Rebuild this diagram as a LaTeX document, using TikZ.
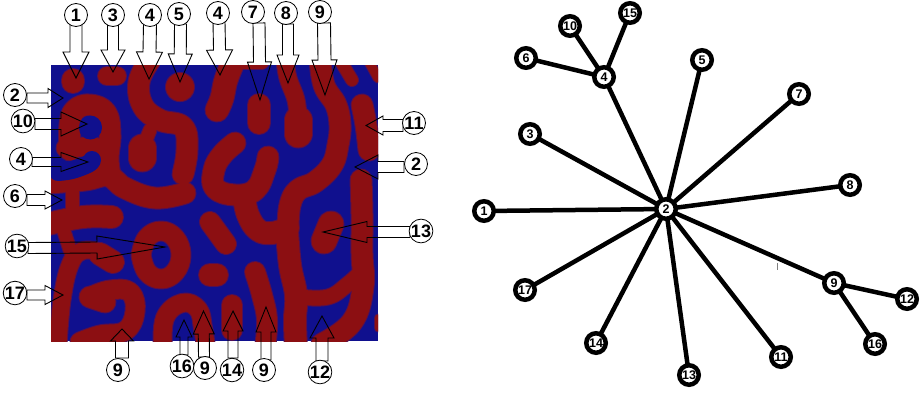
\documentclass[tikz,border=0pt]{standalone}
\usepackage{fontspec}
\setmainfont{Liberation Sans}
\usetikzlibrary{calc}
\definecolor{patblue}{HTML}{10108E}
\definecolor{patred}{HTML}{8C0F12}
\definecolor{pathalo}{HTML}{550F50}
\tikzset{
  x=1pt,y=-1pt,
  patstroke/.style={line cap=round,line join=round},
  barrow/.style={draw=black,line width=0.9pt,line join=miter},
  lab/.style={circle,draw=black,line width=0.8pt,fill=white,minimum size=23pt,inner sep=0pt,font=\fontsize{18}{18}\selectfont\bfseries},
  gnode/.style={circle,draw=black,line width=4.5pt,fill=white,minimum size=19.5pt,inner sep=0pt,outer sep=0pt,font=\fontsize{12.5}{12.5}\selectfont\bfseries},
  gedge/.style={draw=black,line width=4.5pt},
}
\newcommand\redstroke[2]{\draw[patstroke,color=\pcol,line width=#1pt+\dw pt] plot[smooth,tension=.7] coordinates {#2};}
\newcommand\bluestroke[2]{\draw[patstroke,color=patblue,line width=#1pt] plot[smooth,tension=.7] coordinates {#2};}
\newcommand\blockarrow[6]{%
  \coordinate (#1t) at (#2);
  \coordinate (#1p) at (#3);
  \coordinate (#1b) at ($(#1p)!#6pt!(#1t)$);
  \draw[barrow] ($(#1t)!#4pt!90:(#1p)$) -- ($(#1b)!#4pt!90:(#1p)$) -- ($(#1b)!#5pt!90:(#1p)$) -- (#1p)
    -- ($(#1b)!-#5pt!90:(#1p)$) -- ($(#1b)!-#4pt!90:(#1p)$) -- ($(#1t)!-#4pt!90:(#1p)$) -- cycle;
}
\newcommand\patstrokes{%
  \redstroke{19}{(73,80)(73,82)}
  \redstroke{15}{(107,76)(117,76)}
  \redstroke{25}{(180,87)(180,87.1)}
  \redstroke{18}{(150,60)(139,82)(143,106)(160,120)(183,127)(187,150)(183,174)}
  \redstroke{24}{(142,148)(142,158)}
  \redstroke{10}{(142,150)(150,130)}
  \redstroke{18}{(70,150)(70,125)(75,110)(90,105)(106,113)(110,135)(108,158)(110,175)}
  \redstroke{16}{(66,148)(90,147)(108,150)}
  \redstroke{18}{(48,183)(85,180)(108,176)(125,188)(155,198)(185,193)}
  \redstroke{10}{(72,185)(72,212)}
  \redstroke{19}{(48,224)(83,217)(112,217)}
  \redstroke{10}{(62,225)(70,250)}
  \redstroke{14}{(100,252)(82,251)(70,265)(62,300)(58,345)}
  \redstroke{19}{(100,254)(113,262)}
  \redstroke{16}{(141,255)(147,238)(161,231)(175,238)(181,255)(175,272)(161,279)(147,272)(141,255)}
  \redstroke{16}{(92,296)(110,290)(130,292)(135,312)(125,331)(100,335)(80,342)}
  \redstroke{18}{(90,297)(105,302)}
  \redstroke{15}{(163,348)(165,318)(182,303)(198,309)(203,328)(206,348)}
  \redstroke{17}{(210,222)(226,244)}
  \redstroke{19}{(210,275)(217,275)}
  \redstroke{20}{(234,60)(226,80)(222,98)(217,110)}
  \redstroke{10}{(228,62)(262,62)}
  \redstroke{19}{(259,105)(259,123)}
  \redstroke{14}{(285,60)(288,78)(296,100)(298,120)}
  \redstroke{24}{(298,120)(298,134)}
  \redstroke{18}{(320,58)(324,85)(336,105)(340,125)(338,145)(332,165)(315,182)(298,190)(290,205)(288,228)}
  \redstroke{19}{(244,197)(248,215)(258,230)(272,233)(288,228)}
  \redstroke{19}{(287,230)(290,265)(296,295)(295,320)(296,348)}
  \redstroke{18}{(235,143)(222,155)(214,170)(215,188)(235,195)(255,190)(265,170)(268,157)}
  \redstroke{17}{(255,272)(262,295)(267,320)(265,348)}
  \redstroke{17}{(232,305)(232,330)}
  \redstroke{18}{(362,105)(366,125)(369,150)}
  \redstroke{9}{(340,60)(352,80)}
  \redstroke{6}{(368,60)(378,78)}
  \redstroke{18}{(361,180)(362,214)(362,254)(363,287)(352,322)(322,344)}
  \redstroke{12}{(362,271)(348,284)(328,297)(300,297)}
  \redstroke{22}{(331,224)(324,241)}
  \redstroke{4}{(378,318)(378,328)}
}
\begin{document}
\begin{tikzpicture}
\useasboundingbox (0,0) rectangle (923,394);
\fill[white] (0,0) rectangle (923,394);
% pattern
\begin{scope}
  \clip (51,65) rectangle (378,341);
  \fill[patblue] (51,65) rectangle (378,341);
  \def\pcol{pathalo}\def\dw{5}\patstrokes
  \def\pcol{patred}\def\dw{3}\patstrokes
  \bluestroke{23}{(90,127)(90,128)}
  \bluestroke{18}{(58,172)(72,170)(88,164)(92,160)}
\end{scope}
% block arrows
\blockarrow{a1}{76,24}{76,78}{6}{13}{26}
\blockarrow{a3}{113,24}{113,72}{5.5}{12}{22}
\blockarrow{a4}{150,24}{149,79}{6.5}{13}{27}
\blockarrow{a5}{180.5,24}{180,82}{6}{12}{28}
\blockarrow{a4b}{219,22}{220,75}{6}{13}{25}
\blockarrow{a7}{259,23}{260,100}{6}{12}{38}
\blockarrow{a8}{288,24}{288,83}{5.5}{11}{28}
\blockarrow{a9}{324,23}{325,95}{6.5}{12.5}{35}
\blockarrow{a11}{403,125.5}{366,125.5}{6}{9.5}{17}
\blockarrow{a2r}{404,167}{355,167}{5.5}{12}{23}
\blockarrow{a13}{410,232}{323,232}{5.5}{10.5}{44}
\blockarrow{a2l}{27,98}{63,98}{5}{9.5}{15}
\blockarrow{a10}{35,124}{87,124}{5.5}{12}{26}
\blockarrow{a4l}{32,162}{88,162}{4.5}{9.5}{27}
\blockarrow{a6}{27,200}{62,200}{5.5}{9}{17}
\blockarrow{a15}{28,248}{165,247}{5.5}{11.5}{68}
\blockarrow{a17}{27,295}{63,295}{5}{9.5}{18}
\blockarrow{a9b}{122,358}{122,329}{6.5}{11.5}{12}
\blockarrow{a16}{184,355}{184,320}{4}{8}{17}
\blockarrow{a9c}{204,357}{203.5,311}{5.5}{10.5}{23}
\blockarrow{a14}{233,358}{233,311}{5}{10}{20}
\blockarrow{a9d}{266,360}{266,307}{5}{10}{25}
\blockarrow{a12}{322,361}{322,316}{6}{12}{22}
% labels of the left panel
\node[lab] (l1) at (76,15) {1};
\node[lab] (l3) at (113,15) {3};
\node[lab] (l4) at (150,15) {4};
\node[lab] (l5) at (179,14) {5};
\node[lab] (l4b) at (218,13) {4};
\node[lab] (l7) at (253,12) {7};
\node[lab] (l8) at (286,13) {8};
\node[lab] (l9) at (320,12) {9};
\node[lab] (l11) at (414,123) {11};
\node[lab] (l2r) at (416,164) {2};
\node[lab] (l13) at (421,231) {13};
\node[lab] (l2l) at (15,95) {2};
\node[lab] (l10) at (23,121) {10};
\node[lab] (l4l) at (21,159) {4};
\node[lab] (l6) at (15,196) {6};
\node[lab] (l15) at (17,246) {15};
\node[lab] (l17) at (15,293) {17};
\node[lab] (l9b) at (118,370) {9};
\node[lab] (l16) at (182,366) {16};
\node[lab] (l9c) at (205,368) {9};
\node[lab] (l14) at (232,370) {14};
\node[lab] (l9d) at (264,370) {9};
\node[lab] (l12) at (320,372) {12};
% graph
\node[gnode] (g2) at (666,209) {2};
\node[gnode] (g1) at (484,211) {1};
\node[gnode] (g3) at (530,134) {3};
\node[gnode] (g4) at (604,77) {4};
\node[gnode] (g6) at (526,58) {6};
\node[gnode] (g10) at (570,26) {10};
\node[gnode] (g15) at (630,13) {15};
\node[gnode] (g5) at (702,60) {5};
\node[gnode] (g7) at (799,94) {7};
\node[gnode] (g8) at (850,185) {8};
\node[gnode] (g9) at (834,283) {9};
\node[gnode] (g12) at (907,299) {12};
\node[gnode] (g16) at (875,344) {16};
\node[gnode] (g11) at (781,357) {11};
\node[gnode] (g13) at (689,375) {13};
\node[gnode] (g14) at (596,343) {14};
\node[gnode] (g17) at (525,290) {17};
\foreach \a/\b in {g2/g1,g2/g3,g2/g4,g2/g5,g2/g7,g2/g8,g2/g9,g2/g11,g2/g13,g2/g14,g2/g17,g4/g6,g4/g10,g4/g15,g9/g12,g9/g16}
  \draw[gedge] (\a) -- (\b);
\draw[gray,line width=0.6pt] (777,263) -- (777,270);
\end{tikzpicture}
\end{document}
